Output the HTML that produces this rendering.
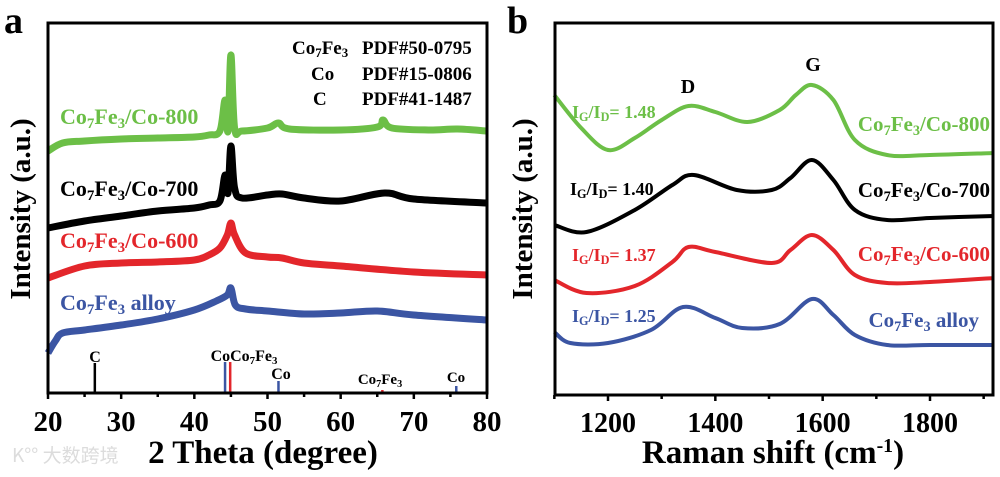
<!DOCTYPE html>
<html><head><meta charset="utf-8">
<style>
html,body{margin:0;padding:0;background:#fff;}
svg{display:block;font-family:"Liberation Serif","Noto Serif CJK SC",serif;font-weight:bold;}
</style></head>
<body>
<svg id="fig" width="1000" height="477" viewBox="0 0 1000 477" xmlns="http://www.w3.org/2000/svg">
<text x="12" y="462" font-size="19" fill="#dcdcdc" font-family="Noto Sans CJK SC, sans-serif" font-weight="normal">K°° 大数跨境</text>
<g id="pa"></g>
<g id="pb"></g>
</svg>
<script>
// ---------- Panel a data (XRD) ----------
const xrdAngles800 = [20,22,25,30,35,40,42,43.5,44.2,44.6,45.0,45.5,46.5,50,51.5,53,60,65,65.8,67,72,76,80];
const xrdInt800    = [242,250,252,254,255,256,258,262,293,262,338,265,262,265,270,264,263,266,273,265,263,264,262];
const xrdAngles700 = [20,25,30,35,40,42,43.5,44.2,44.6,45.0,45.5,46.5,50,52,55,60,66,70,80];
const xrdInt700    = [165,172,177,182,185,188,192,218,200,247,205,195,198,199,195,192,200,194,190];
const xrdAngles600 = [20,25,30,35,40,42,43.5,44.5,45.0,45.5,47,50,52,55,60,70,80];
const xrdInt600    = [115,127,130,131,133,138,145,158,170,158,140,136,135,130,127,121,118];
const xrdAnglesAl  = [20,21,22,25,30,35,40,43,44.5,45.0,45.6,47,50,55,60,65,70,80];
const xrdIntAl     = [40,52,60,63,68,74,83,92,98,105,88,84,82,79,80,82,78,73];
const xrdSeries = [
  {name:'xrd-co7fe3-co-800', color:'#6cbf47', a:xrdAngles800, v:xrdInt800},
  {name:'xrd-co7fe3-co-700', color:'#000000', a:xrdAngles700, v:xrdInt700},
  {name:'xrd-co7fe3-co-600', color:'#e3262b', a:xrdAngles600, v:xrdInt600},
  {name:'xrd-co7fe3-alloy',  color:'#3b55a3', a:xrdAnglesAl,  v:xrdIntAl}
];
const refAngles = [26.4,44.2,44.9,51.5,65.7,75.8];
const refHeights = [30,31,31,12,3,7];
const refColors = ['#000','#3b55a3','#e3262b','#3b55a3','#e3262b','#3b55a3'];
const xrdTicks = [20,30,40,50,60,70,80];

// ---------- Panel b data (Raman) ----------
const ramanShift800 = [1100,1150,1200,1250,1300,1350,1400,1460,1520,1550,1580,1620,1660,1720,1800,1920];
const ramanInt800   = [305,272,250,262,280,294,288,278,290,305,315,300,260,245,245,247];
const ramanShift700 = [1100,1160,1250,1320,1360,1440,1505,1540,1580,1620,1660,1720,1800,1920];
const ramanInt700   = [175,168,190,215,225,210,210,222,240,220,190,180,182,184];
const ramanShift600 = [1100,1160,1250,1320,1350,1400,1505,1540,1580,1620,1660,1720,1800,1920];
const ramanInt600   = [120,107,114,138,153,148,137,150,165,150,125,117,118,122];
const ramanShiftAl  = [1100,1130,1200,1280,1340,1400,1450,1520,1580,1620,1660,1720,1800,1920];
const ramanIntAl    = [68,57,57,70,93,82,72,76,101,85,65,55,55,55];
const ramanSeries = [
  {name:'raman-co7fe3-co-800', color:'#6cbf47', a:ramanShift800, v:ramanInt800},
  {name:'raman-co7fe3-co-700', color:'#000000', a:ramanShift700, v:ramanInt700},
  {name:'raman-co7fe3-co-600', color:'#e3262b', a:ramanShift600, v:ramanInt600},
  {name:'raman-co7fe3-alloy',  color:'#3b55a3', a:ramanShiftAl,  v:ramanIntAl}
];
const ramanTicks = [1200,1400,1600,1800];

const NS='http://www.w3.org/2000/svg';
function mk(parent,tag,attrs){const e=document.createElementNS(NS,tag);for(const k in attrs)e.setAttribute(k,attrs[k]);parent.appendChild(e);return e;}
function smoothPath(pts){
  let d='M'+pts[0][0].toFixed(1)+','+pts[0][1].toFixed(1);
  for(let i=0;i<pts.length-1;i++){
    const p0=pts[i-1]||pts[i],p1=pts[i],p2=pts[i+1],p3=pts[i+2]||p2;
    const c1=[p1[0]+(p2[0]-p0[0])/6,p1[1]+(p2[1]-p0[1])/6];
    const c2=[p2[0]-(p3[0]-p1[0])/6,p2[1]-(p3[1]-p1[1])/6];
    d+=' C'+c1[0].toFixed(1)+','+c1[1].toFixed(1)+' '+c2[0].toFixed(1)+','+c2[1].toFixed(1)+' '+p2[0].toFixed(1)+','+p2[1].toFixed(1);
  }
  return d;
}
function label(parent,x,y,size,color,html,anchor,name){
  const t=mk(parent,'text',{x:x,y:y,'font-size':size,fill:color,'text-anchor':anchor||'start'});
  t.innerHTML=html;
  
  
  return t;
}
const sub=(s)=>'<tspan baseline-shift="-25%" font-size="0.68em">'+s+'</tspan>';
const co7=()=>'Co'+sub('7')+'Fe'+sub('3');

// ===== Panel a =====
(function(){
  const g=document.getElementById('pa');
  const L=48,R=487,T=23,B=393;
  const xs=a=>L+(a-20)/(80-20)*(R-L);
  const ys=v=>B-v;
  xrdSeries.forEach(s=>{
    const pts=s.a.map((a,i)=>[xs(a),ys(s.v[i])]);
    const p=mk(g,'path',{d:smoothPath(pts),fill:'none',stroke:s.color,'stroke-width':7,'stroke-linejoin':'round'});
    
    
  });
  refAngles.forEach((a,i)=>{
    const l=mk(g,'line',{x1:xs(a),x2:xs(a),y1:B,y2:B-refHeights[i],stroke:refColors[i],'stroke-width':2.5});
    
    
  });
  label(g,95,362,16,'#000','C','middle','ref-label-c');
  label(g,244,361,16,'#000','Co'+co7(),'middle','ref-label-co-co7fe3');
  label(g,281,379,16,'#000','Co','middle','ref-label-co-51');
  label(g,380,384,15,'#000',co7(),'middle','ref-label-co7fe3-66');
  label(g,456,382,15,'#000','Co','middle','ref-label-co-76');
  const f=mk(g,'rect',{x:L,y:T,width:R-L,height:B-T,fill:'none',stroke:'#000','stroke-width':3});
  
  
  for(let a=20;a<=80;a+=5){
    const major=a%10===0;
    mk(g,'line',{x1:xs(a),x2:xs(a),y1:B,y2:B+(major?6:4),stroke:'#000','stroke-width':2.5});
  }
  xrdTicks.forEach(a=>label(g,xs(a),431,29,'#000',String(a),'middle','x-tick-label'));
  label(g,263,463,33,'#000','2 Theta (degree)','middle','x-axis-title-a');
  const yt=label(g,0,0,29,'#000','Intensity (a.u.)','middle','y-axis-title-a');
  yt.setAttribute('transform','translate(30,209) rotate(-90)');
  label(g,4,33,38,'#000','a','start','panel-label-a');
  label(g,60,124,22,'#6cbf47',co7()+'/Co-800','start','label-co-800');
  label(g,60,196,22,'#000',co7()+'/Co-700','start','label-co-700');
  label(g,60,248,22,'#e3262b',co7()+'/Co-600','start','label-co-600');
  label(g,60,310,22,'#3b55a3',co7()+' alloy','start','label-alloy');
  label(g,292,54,19,'#000',co7(),'start','legend-co7fe3');
  label(g,311,80,19,'#000','Co','start','legend-co');
  label(g,313,105,19,'#000','C','start','legend-c');
  label(g,362,54,19,'#000','PDF#50-0795','start','legend-pdf-50-0795');
  label(g,362,80,19,'#000','PDF#15-0806','start','legend-pdf-15-0806');
  label(g,362,105,19,'#000','PDF#41-1487','start','legend-pdf-41-1487');
})();

// ===== Panel b =====
(function(){
  const g=document.getElementById('pb');
  const L=555,R=993,T=23,B=395;
  const xs=a=>608+(a-1200)*(930-608)/600;
  const ys=v=>400-v;
  ramanSeries.forEach(s=>{
    const pts=s.a.map((a,i)=>[xs(a),ys(s.v[i])]);
    const p=mk(g,'path',{d:smoothPath(pts),fill:'none',stroke:s.color,'stroke-width':4,'stroke-linejoin':'round'});
    
    
  });
  const f=mk(g,'rect',{x:L,y:T,width:R-L,height:B-T,fill:'none',stroke:'#000','stroke-width':3});
  
  
  for(let a=1100;a<=1900;a+=100){
    const major=a%200===0;
    mk(g,'line',{x1:xs(a),x2:xs(a),y1:B,y2:B+(major?6:4),stroke:'#000','stroke-width':2.5});
  }
  ramanTicks.forEach(a=>label(g,xs(a),432,28,'#000',String(a),'middle','x-tick-label-b'));
  label(g,773,463,33,'#000','Raman shift (cm<tspan baseline-shift="super" font-size="0.6em">-1</tspan>)','middle','x-axis-title-b');
  const yt=label(g,0,0,29,'#000','Intensity (a.u.)','middle','y-axis-title-b');
  yt.setAttribute('transform','translate(532,209) rotate(-90)');
  label(g,507,33,38,'#000','b','start','panel-label-b');
  label(g,688,93,20,'#000','D','middle','peak-label-d');
  label(g,813,71,20,'#000','G','middle','peak-label-g');
  const idl=(x,y,c,v,n)=>label(g,x,y,18,c,'I'+sub('G')+'/I'+sub('D')+'= '+v,'start',n);
  idl(572,118,'#6cbf47','1.48','ratio-800');
  idl(570,195,'#000','1.40','ratio-700');
  idl(572,261,'#e3262b','1.37','ratio-600');
  idl(572,322,'#3b55a3','1.25','ratio-alloy');
  label(g,990,131,21,'#6cbf47',co7()+'/Co-800','end','raman-label-800');
  label(g,990,197,21,'#000',co7()+'/Co-700','end','raman-label-700');
  label(g,990,261,21,'#e3262b',co7()+'/Co-600','end','raman-label-600');
  label(g,979,327,21,'#3b55a3',co7()+' alloy','end','raman-label-alloy');
})();
</script>
</body></html>
